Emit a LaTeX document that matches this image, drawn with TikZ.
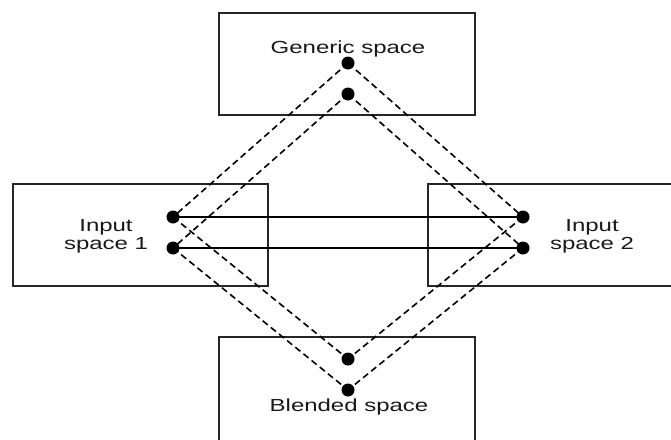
\documentclass[tikz,border=0pt]{standalone}
\usepackage{fontspec}
\newfontfamily\lblfont[FakeStretch=1.37]{Liberation Sans}
\begin{document}
\begin{tikzpicture}[x=1pt,y=-1pt,
  spacebox/.style={draw=black!85,line width=1.3pt,fill=none,inner sep=0pt},
  dot/.style={circle,fill=black,inner sep=0pt,minimum size=13pt},
  lbl/.style={font=\lblfont\fontsize{17.5}{18}\selectfont,text=black!90,anchor=base,inner sep=0pt},
  link/.style={line width=1.6pt,dash pattern=on 6.5pt off 4pt},
  corr/.style={line width=1.2pt}]
\clip (0,0) rectangle (671,439);
\fill[white] (0,0) rectangle (671,439);
% boxes
\node[spacebox,minimum width=256pt,minimum height=102pt] (gen) at (347,64) {};
\node[spacebox,minimum width=255pt,minimum height=102pt] (in1) at (140.5,235) {};
\node[spacebox,minimum width=255pt,minimum height=102pt] (in2) at (555.5,235) {};
\node[spacebox,minimum width=256pt,minimum height=104pt] (bl) at (347,389) {};
% labels
\node[lbl] (tgen) at (348,53) {Generic space};
\node[lbl] (tin1a) at (106,231.5) {Input};
\node[lbl] (tin1b) at (106,249.5) {space 1};
\node[lbl] (tin2a) at (592,231.5) {Input};
\node[lbl] (tin2b) at (592,249.5) {space 2};
\node[lbl] (tbl) at (349,411.5) {Blended space};
% dots
\node[dot] (g1) at (348,63) {};
\node[dot] (g2) at (348,94) {};
\node[dot] (a1) at (173,217) {};
\node[dot] (a2) at (173,248) {};
\node[dot] (b1) at (523,217) {};
\node[dot] (b2) at (523,248) {};
\node[dot] (c1) at (348,359) {};
\node[dot] (c2) at (348,390) {};
% correspondence lines
\draw[corr] (a1.center) -- (b1.center);
\draw[corr] (a2.center) -- (b2.center);
% projections
\draw[link] (g1.center) -- (a1.center);
\draw[link] (g2.center) -- (a2.center);
\draw[link] (g1.center) -- (b1.center);
\draw[link] (g2.center) -- (b2.center);
\draw[link] (a1.center) -- (c1.center);
\draw[link] (a2.center) -- (c2.center);
\draw[link] (b1.center) -- (c1.center);
\draw[link] (b2.center) -- (c2.center);
\end{tikzpicture}
\end{document}
